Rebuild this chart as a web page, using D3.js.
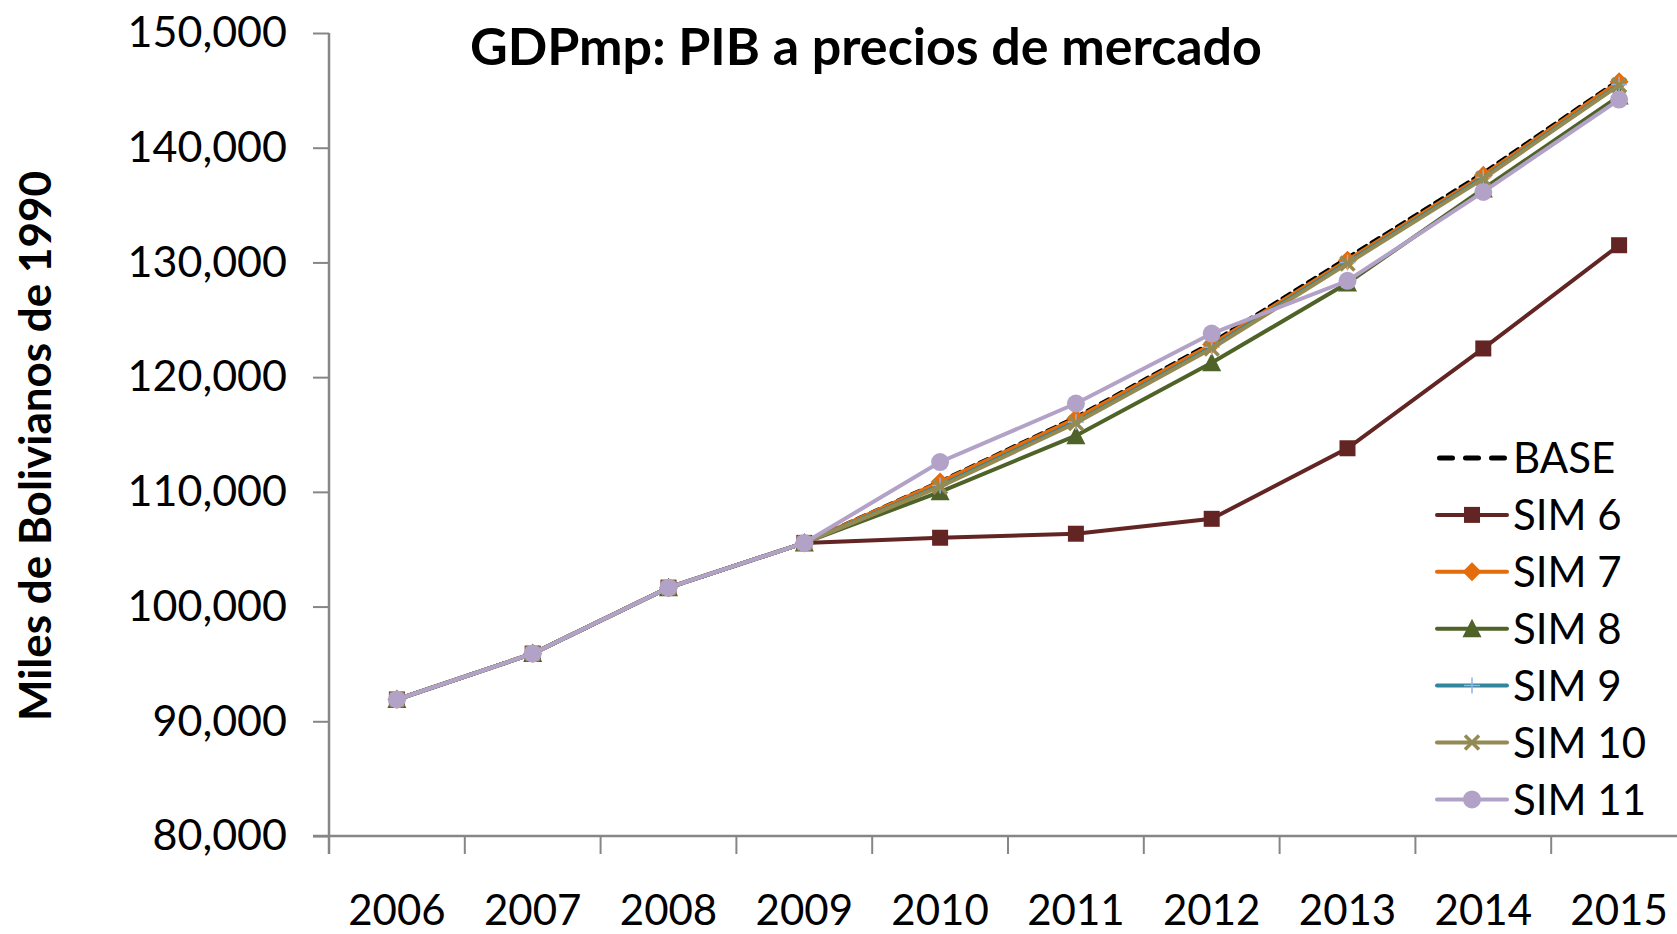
<!DOCTYPE html>
<meta charset="utf-8">
<script src="https://d3js.org/d3.v7.min.js"></script>
<style>
  body { margin: 0; background: #fff; }
  text { font-family: Lato, "Open Sans", sans-serif; fill: #000; }
</style>
<svg id="chart" width="1677" height="934"></svg>
<script>

    // data
    const years = ["2006","2007","2008","2009","2010","2011","2012","2013","2014","2015"]
    const base  = [91900, 95900, 101650, 105550, 110900, 116500, 123000, 130400, 137800, 145900]
    const sim6  = [91900, 95900, 101650, 105550, 106000, 106350, 107650, 113800, 122500, 131500]
    const sim7  = [91900, 95900, 101650, 105550, 110850, 116400, 122850, 130200, 137600, 145750]
    const sim8  = [91900, 95900, 101650, 105550, 110000, 114900, 121250, 128200, 136400, 144500]
    const sim9  = [91900, 95900, 101650, 105550, 110550, 116100, 122600, 130000, 137400, 145500]
    const sim10 = [91900, 95900, 101650, 105550, 110450, 116000, 122500, 129900, 137300, 145450]
    const sim11 = [91900, 95900, 101650, 105550, 112600, 117700, 123800, 128400, 136150, 144200]
    const yTicks = [80000, 90000, 100000, 110000, 120000, 130000, 140000, 150000]

    const series = [
      {name: "BASE",   values: base,  color: "#000000", marker: "none", dash: "9,6"},
      {name: "SIM 6",  values: sim6,  color: "#632523", marker: "square"},
      {name: "SIM 7",  values: sim7,  color: "#E46C0A", marker: "diamond"},
      {name: "SIM 8",  values: sim8,  color: "#4F6228", marker: "triangle"},
      {name: "SIM 9",  values: sim9,  color: "#31859C", marker: "plus", mcolor: "#8EB4E3"},
      {name: "SIM 10", values: sim10, color: "#948A54", marker: "x"},
      {name: "SIM 11", values: sim11, color: "#B3A2C7", marker: "circle"}
    ]

    const svg = d3.select("#chart")

    const plotLeft = 329, plotTop = 33, plotBottom = 836, step = 135.8

    const x = d3.scaleBand()
      .domain(years)
      .range([plotLeft, plotLeft + step * years.length])

    const y = d3.scaleLinear()
      .domain([80000, 150000])
      .range([plotBottom, plotTop])

    const axisColor = "#868686"

    // y axis
    const yAxis = svg.append("g")
      .attr("transform", `translate(${plotLeft},0)`)
      .call(d3.axisLeft(y).tickValues(yTicks).tickSize(16).tickFormat(d3.format(",")))
    yAxis.select(".domain").attr("stroke", axisColor).attr("stroke-width", 2.5)
      .attr("d", `M0,${plotTop}V${plotBottom + 18}`)
    yAxis.selectAll(".tick line").attr("stroke", axisColor).attr("stroke-width", 2)
    yAxis.selectAll(".tick text")
      .attr("x", -42)
      .style("font-size", "43px")
      .style("font-family", "Lato")

    // x axis, ticks on the band edges
    const xAxis = svg.append("g")
      .attr("transform", `translate(0,${plotBottom})`)
    xAxis.append("line")
      .attr("x1", plotLeft - 16).attr("x2", 1677)
      .attr("stroke", axisColor).attr("stroke-width", 2.5)
    xAxis.selectAll(".xt")
      .data(years)
      .join("line")
        .attr("x1", d => x(d) + step).attr("x2", d => x(d) + step)
        .attr("y1", 0).attr("y2", 18)
        .attr("stroke", axisColor).attr("stroke-width", 2)
    xAxis.selectAll(".xl")
      .data(years)
      .join("text")
        .attr("x", d => x(d) + step / 2)
        .attr("y", 89)
        .attr("text-anchor", "middle")
        .style("font-size", "42px")
        .text(d => d)

    // marker shapes
    function drawMarker(g, s, cx, cy) {
      const c = s.mcolor || s.color
      if (s.marker == "square") {
        g.append("rect").attr("x", cx - 8).attr("y", cy - 8).attr("width", 16).attr("height", 16).attr("fill", c)
      } else if (s.marker == "diamond") {
        g.append("path").attr("d", `M${cx},${cy-9.5}L${cx+9.5},${cy}L${cx},${cy+9.5}L${cx-9.5},${cy}Z`).attr("fill", c)
      } else if (s.marker == "triangle") {
        g.append("path").attr("d", `M${cx},${cy-10}L${cx+9.5},${cy+8.5}L${cx-9.5},${cy+8.5}Z`).attr("fill", c)
      } else if (s.marker == "plus") {
        g.append("path").attr("d", `M${cx-8},${cy}H${cx+8}M${cx},${cy-8}V${cy+8}`).attr("stroke", c).attr("stroke-width", 1.5)
      } else if (s.marker == "x") {
        g.append("path").attr("d", `M${cx-7},${cy-7}L${cx+7},${cy+7}M${cx+7},${cy-7}L${cx-7},${cy+7}`).attr("stroke", c).attr("stroke-width", 3.5)
      } else if (s.marker == "circle") {
        g.append("circle").attr("cx", cx).attr("cy", cy).attr("r", 9).attr("fill", c)
      }
    }

    const line = d3.line()
      .x((d, i) => x(years[i]) + step / 2)
      .y(d => y(d))

    // series
    series.forEach(s => {
      const g = svg.append("g")
      g.append("path")
        .datum(s.values)
        .attr("d", line)
        .attr("fill", "none")
        .attr("stroke", s.color)
        .attr("stroke-width", 4)
        .attr("stroke-linecap", s.dash ? "round" : "butt")
        .attr("stroke-dasharray", s.dash || null)
      s.values.forEach((v, i) => drawMarker(g, s, x(years[i]) + step / 2, y(v)))
    })

    // legend
    const legend = svg.append("g")
    series.forEach((s, i) => {
      const ly = 458 + i * 56.9
      legend.append("line")
        .attr("x1", s.dash ? 1439.5 : 1437).attr("x2", s.dash ? 1504.5 : 1507)
        .attr("y1", ly).attr("y2", ly)
        .attr("stroke", s.color)
        .attr("stroke-width", s.dash ? 5 : 4)
        .attr("stroke-linecap", "round")
        .attr("stroke-dasharray", s.dash ? "13,13" : null)
      drawMarker(legend, s, 1472, ly)
      legend.append("text")
        .attr("x", 1513).attr("y", ly)
        .attr("dy", "0.36em")
        .style("font-size", "42px")
        .text(s.name)
    })

    // title
    svg.append("text")
      .attr("x", 866).attr("y", 65)
      .attr("text-anchor", "middle")
      .style("font-size", "52px")
      .style("font-weight", "bold")
      .text("GDPmp: PIB a precios de mercado")

    // y axis title
    svg.append("text")
      .attr("transform", "translate(51,446) rotate(-90)")
      .attr("text-anchor", "middle")
      .style("font-size", "44px")
      .style("font-weight", "bold")
      .text("Miles de Bolivianos de 1990")

</script>
